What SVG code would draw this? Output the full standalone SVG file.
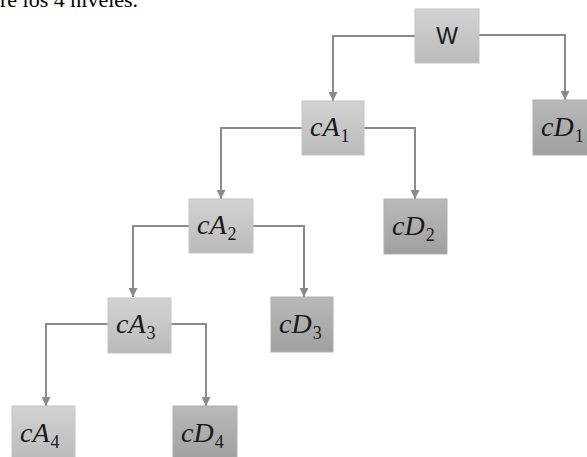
<svg xmlns="http://www.w3.org/2000/svg" width="587" height="457" viewBox="0 0 587 457">
<defs>
<linearGradient id="gA" x1="0" y1="0" x2="0" y2="1">
<stop offset="0" stop-color="#d3d3d3"/><stop offset="1" stop-color="#bababa"/>
</linearGradient>
<linearGradient id="gD" x1="0" y1="0" x2="0" y2="1">
<stop offset="0" stop-color="#b9b9b9"/><stop offset="1" stop-color="#a0a0a0"/>
</linearGradient>
<marker id="ah" viewBox="0 0 10 10" refX="10" refY="5" markerWidth="9" markerHeight="9" markerUnits="userSpaceOnUse" orient="auto">
<path d="M0,0 L10,5 L0,10 Z" fill="#8a8a8a"/>
</marker>
</defs>
<style>
.a{fill:url(#gA);stroke:#c4c4c4;stroke-width:1}
.d{fill:url(#gD);stroke:#b0b0b0;stroke-width:1}
.m{font-family:"Liberation Serif","DejaVu Serif",serif;font-style:italic;font-size:28px;fill:#1a1a1a}
.s{font-size:18px;font-style:normal}
.c{fill:none;stroke:#8a8a8a;stroke-width:2;marker-end:url(#ah)}
.top{font-family:"Liberation Serif",serif;font-size:22px;fill:#000}
</style>
<text class="top" x="0" y="6.5">re los 4 niveles.</text>
<g id="connectors">
<path class="c" d="M415,36 H333 V101"/>
<path class="c" d="M479,35 H565 V100"/>
<path class="c" d="M302,128 H221 V199"/>
<path class="c" d="M364,128 H415 V199"/>
<path class="c" d="M189,226 H133 V297"/>
<path class="c" d="M253,226 H304 V297"/>
<path class="c" d="M108,324 H46 V406"/>
<path class="c" d="M171,324 H206 V406"/>
</g>
<g id="W"><rect class="a" x="415" y="9" width="64" height="54"/><text x="447" y="44" text-anchor="middle" font-family="'Liberation Sans',Arial,sans-serif" font-size="23" fill="#1a1a1a">W</text></g>
<g id="cD1"><rect class="d" x="533" y="100" width="64" height="55"/><text class="m" x="541" y="136">cD<tspan class="s" dx="1" dy="6">1</tspan></text></g>
<g id="cA1"><rect class="a" x="302" y="101" width="62" height="54"/><text class="m" x="310" y="136">cA<tspan class="s" dx="1" dy="6">1</tspan></text></g>
<g id="cD2"><rect class="d" x="384" y="199" width="63" height="55"/><text class="m" x="392" y="235">cD<tspan class="s" dx="1" dy="6">2</tspan></text></g>
<g id="cA2"><rect class="a" x="189" y="199" width="64" height="54"/><text class="m" x="197" y="234">cA<tspan class="s" dx="1" dy="6">2</tspan></text></g>
<g id="cD3"><rect class="d" x="271" y="297" width="62" height="55"/><text class="m" x="279" y="333">cD<tspan class="s" dx="1" dy="6">3</tspan></text></g>
<g id="cA3"><rect class="a" x="108" y="298" width="63" height="55"/><text class="m" x="116" y="333">cA<tspan class="s" dx="1" dy="6">3</tspan></text></g>
<g id="cA4"><rect class="a" x="12" y="406" width="63" height="55"/><text class="m" x="20" y="442">cA<tspan class="s" dx="1" dy="6">4</tspan></text></g>
<g id="cD4"><rect class="d" x="173" y="406" width="64" height="55"/><text class="m" x="181" y="442">cD<tspan class="s" dx="1" dy="6">4</tspan></text></g>
</svg>
